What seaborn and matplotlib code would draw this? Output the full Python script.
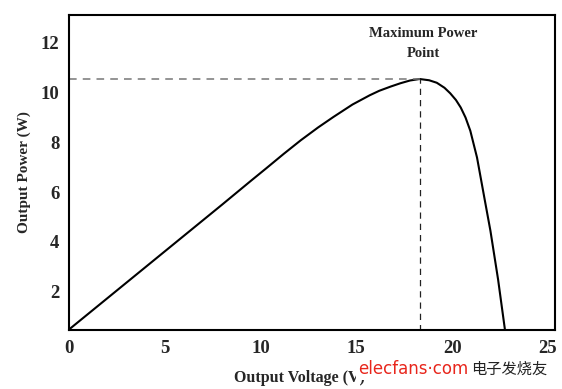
import matplotlib
matplotlib.use("Agg")
import matplotlib.pyplot as plt
import seaborn as sns
import pandas as pd

# P-V curve values
voltage = [0, 2, 4, 6, 8, 9.5, 10.3, 11.2, 12.1, 13.0, 13.8, 14.8, 15.7, 16.2,
           16.8, 17.3, 17.8, 18.3, 18.8, 19.2, 19.6, 19.9, 20.2, 20.45, 20.7,
           20.95, 21.3, 21.7, 22.0, 22.4, 22.76]
power = [0.5, 1.75, 3.0, 4.25, 5.5, 6.45, 6.95, 7.52, 8.07, 8.58, 9.0, 9.5, 9.87,
         10.05, 10.22, 10.35, 10.46, 10.52, 10.47, 10.37, 10.17, 9.95, 9.68, 9.38,
         8.98, 8.45, 7.38, 5.7, 4.45, 2.5, 0.48]
mpp_v = 18.3
mpp_p = 10.53

df = pd.DataFrame({"voltage": voltage, "power": power})

sns.set_theme(style="white")
plt.rcParams["font.family"] = ["Liberation Serif", "DejaVu Serif"]

fig = plt.figure(figsize=(5.62, 3.89), dpi=100)
ax = fig.add_axes([0.1228, 0.1517, 0.8647, 0.8097])

sns.lineplot(data=df, x="voltage", y="power", color="black", lw=1.5, ax=ax, sort=False)

# dashed guides to the maximum power point
ax.plot([0, mpp_v], [mpp_p, mpp_p], ls=(0, (5, 4)), color="#777777", lw=1.1)
ax.plot([mpp_v, mpp_v], [0, mpp_p], ls=(0, (5, 4)), color="#222222", lw=0.9)

ax.set_xlim(0, 25.37)
ax.set_ylim(0.48, 13.08)
ax.set_xticks([0, 5, 10, 15, 20, 25])
ax.set_yticks([2, 4, 6, 8, 10, 12])
ax.tick_params(length=0, labelsize=13.5, pad=7)
for lab in ax.get_xticklabels() + ax.get_yticklabels():
    lab.set_fontweight("bold")
for s in ax.spines.values():
    s.set_color("black")
    s.set_linewidth(1.5)

ax.set_xlabel("Output Voltage (V)", fontsize=11.5, fontweight="bold", va="center")
ax.xaxis.set_label_coords(0.475, -0.152)
ax.set_ylabel("Output Power (W)", fontsize=11, fontweight="bold", va="center")
ax.yaxis.set_label_coords(-0.093, 0.5)

ax.text(18.5, 12.36, "Maximum Power", ha="center", va="center", fontsize=10.5, fontweight="bold")
ax.text(18.5, 11.56, "Point", ha="center", va="center", fontsize=10.5, fontweight="bold")

# site watermark at the bottom right
fig.text(0.638, 0.052, "elecfans·com", color="#e8261c", fontsize=12,
         family=["DejaVu Sans"], va="center",
         bbox=dict(boxstyle="square,pad=0.15", fc="white", ec="none"))
fig.text(0.838, 0.052, "电子发烧友", color="#222222", fontsize=11,
         family=["Noto Sans CJK SC", "DejaVu Sans"], va="center")

fig.savefig("out.png", dpi=100)
